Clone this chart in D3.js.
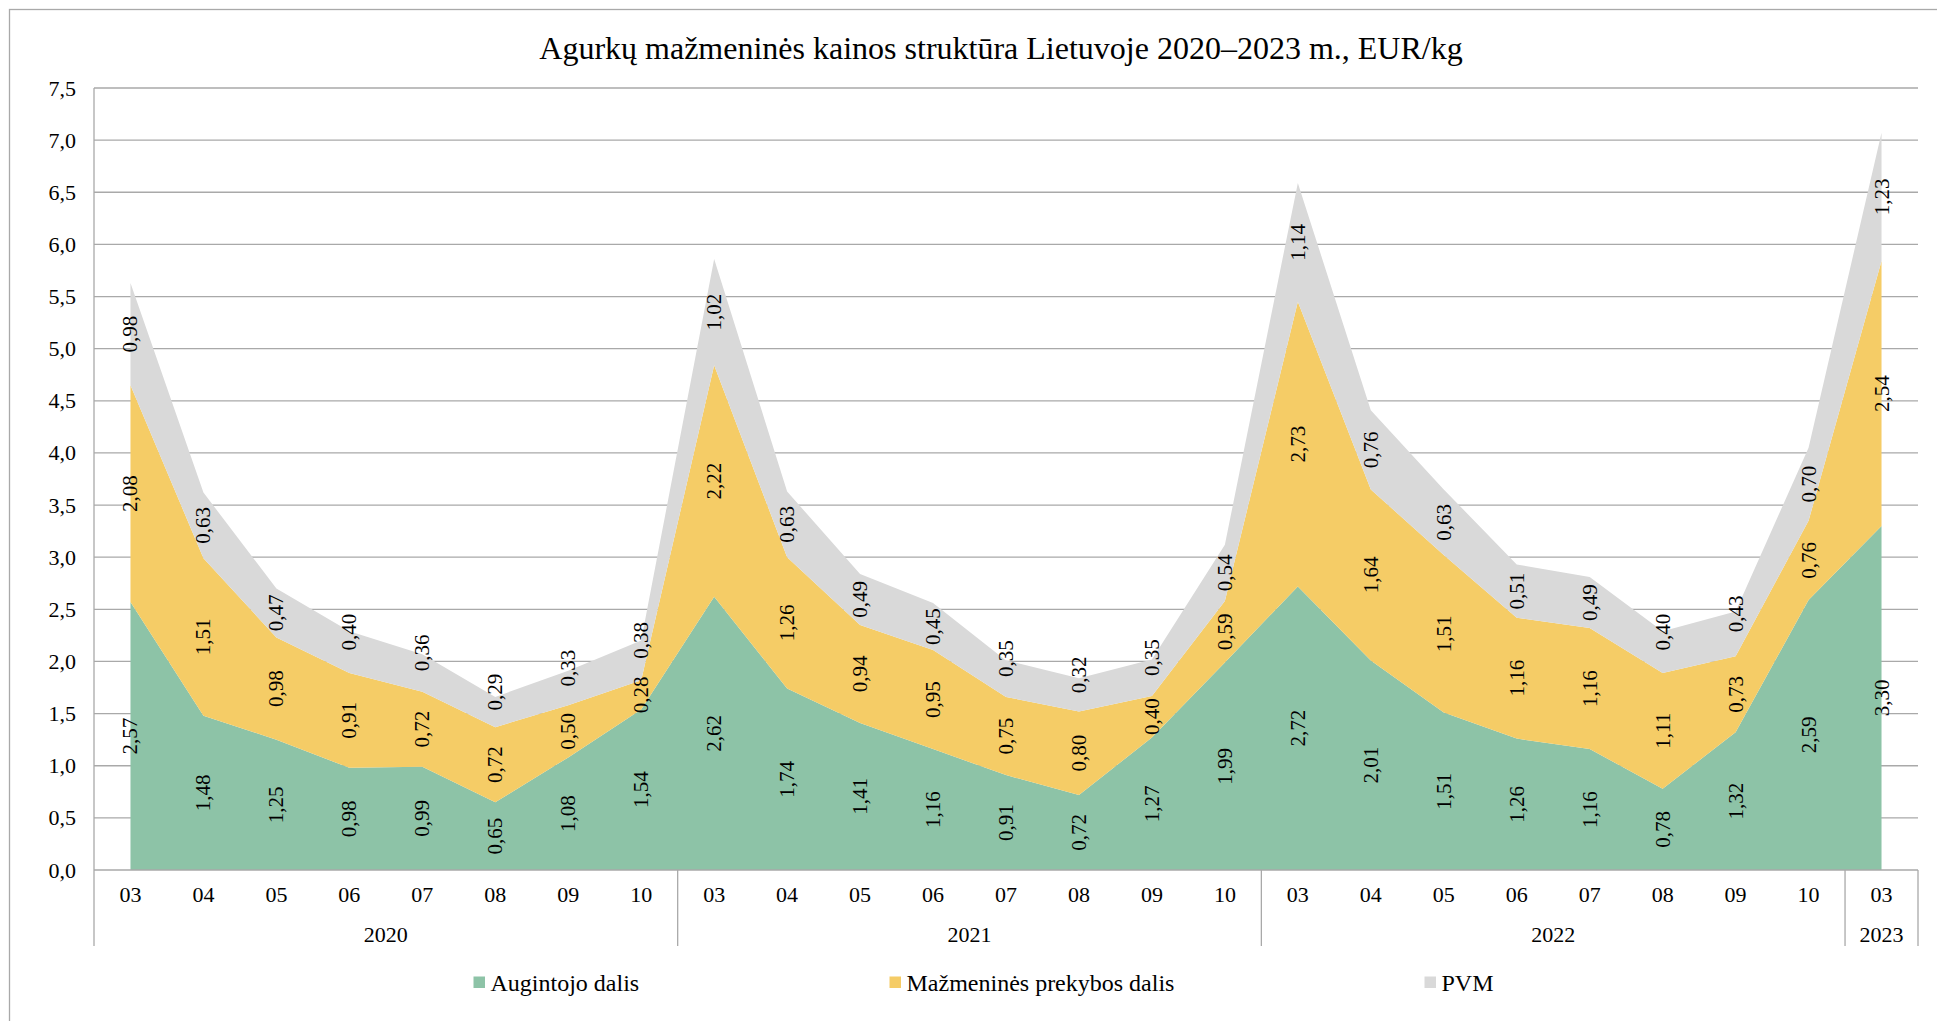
<!DOCTYPE html>
<html>
<head>
    <meta charset="utf-8">
    <title>Agurkų mažmeninės kainos struktūra</title>
    <style>
        body { margin: 0; background: #fff; }
        svg text { font-family: 'Liberation Serif', 'Times New Roman', serif; fill: #000; }
        .grid line { stroke: #a9a9a9; stroke-width: 1.3px; }
        .axis-line { stroke: #a9a9a9; stroke-width: 1.3px; }
        .tick-label { font-size: 22px; }
        .legend-label { font-size: 24px; }
        .val-label { font-size: 21px; text-anchor: middle; dominant-baseline: central; }
    </style>
    <script src="https://d3js.org/d3.v7.min.js"></script>
</head>
<body>
<div id="chart"></div>
<script>
    const width = 1937,
          height = 1021;

    // data
    const years = ['2020', '2021', '2022', '2023'];
    const monthsPerYear = [
        ['03', '04', '05', '06', '07', '08', '09', '10'],
        ['03', '04', '05', '06', '07', '08', '09', '10'],
        ['03', '04', '05', '06', '07', '08', '09', '10'],
        ['03']
    ];
    const seriesNames = ['Augintojo dalis', 'Mažmeninės prekybos dalis', 'PVM'];
    const grower = [2.57, 1.48, 1.25, 0.98, 0.99, 0.65, 1.08, 1.54,
                    2.62, 1.74, 1.41, 1.16, 0.91, 0.72, 1.27, 1.99,
                    2.72, 2.01, 1.51, 1.26, 1.16, 0.78, 1.32, 2.59,
                    3.30];
    const retail = [2.08, 1.51, 0.98, 0.91, 0.72, 0.72, 0.50, 0.28,
                    2.22, 1.26, 0.94, 0.95, 0.75, 0.80, 0.40, 0.59,
                    2.73, 1.64, 1.51, 1.16, 1.16, 1.11, 0.73, 0.76,
                    2.54];
    const vat = [0.98, 0.63, 0.47, 0.40, 0.36, 0.29, 0.33, 0.38,
                 1.02, 0.63, 0.49, 0.45, 0.35, 0.32, 0.35, 0.54,
                 1.14, 0.76, 0.63, 0.51, 0.49, 0.40, 0.43, 0.70,
                 1.23];
    const yTicks = [0, 0.5, 1, 1.5, 2, 2.5, 3, 3.5, 4, 4.5, 5, 5.5, 6, 6.5, 7, 7.5];
    const colors = ['#8dc3a7', '#f5cc66', '#d9d9d9'];

    // build rows
    const cats = [];
    monthsPerYear.forEach((ms, yi) => ms.forEach(m => cats.push({ key: years[yi] + '-' + m, year: years[yi], month: m })));
    const rows = cats.map((c, i) => ({ key: c.key, s0: grower[i], s1: retail[i], s2: vat[i] }));

    const plot = { left: 94, right: 1918, top: 88, bottom: 870 };

    const x = d3.scaleBand()
            .domain(cats.map(c => c.key))
            .range([plot.left, plot.right]);
    const cx = k => x(k) + x.bandwidth() / 2;

    const y = d3.scaleLinear()
            .domain([0, 7.5])
            .range([plot.bottom, plot.top]);

    const fmt = v => d3.format('.2f')(v).replace('.', ',');
    const fmtTick = v => d3.format('.1f')(v).replace('.', ',');

    const svg = d3.select('#chart').append('svg')
            .attr('width', width)
            .attr('height', height);

    // outer frame (runs off the right and bottom edge like the original)
    svg.append('rect')
            .attr('x', 9.5).attr('y', 9.5)
            .attr('width', width + 20).attr('height', height + 20)
            .attr('fill', 'none')
            .attr('stroke', '#a9a9a9')
            .attr('stroke-width', 1.3);

    svg.append('text')
            .attr('x', 1001)
            .attr('y', 59)
            .attr('text-anchor', 'middle')
            .style('font-size', '32px')
            .text('Agurkų mažmeninės kainos struktūra Lietuvoje 2020–2023 m., EUR/kg');

    // gridlines
    svg.append('g').attr('class', 'grid')
            .selectAll('line')
            .data(yTicks.filter(d => d > 0))
            .join('line')
            .attr('x1', plot.left).attr('x2', plot.right)
            .attr('y1', d => y(d)).attr('y2', d => y(d));

    // y labels
    svg.append('g')
            .selectAll('text')
            .data(yTicks)
            .join('text')
            .attr('class', 'tick-label')
            .attr('x', 76)
            .attr('y', d => y(d))
            .attr('text-anchor', 'end')
            .attr('dominant-baseline', 'central')
            .text(fmtTick);

    // stacked areas
    const stack = d3.stack().keys(['s0', 's1', 's2']);
    const layers = stack(rows);

    const area = d3.area()
            .x(d => cx(d.data.key))
            .y0(d => y(d[0]))
            .y1(d => y(d[1]));

    svg.append('g')
            .selectAll('path')
            .data(layers)
            .join('path')
            .attr('fill', (d, i) => colors[i])
            .attr('d', area);

    // axes lines
    const axisBottom = 946;
    svg.append('line').attr('class', 'axis-line')
            .attr('x1', plot.left).attr('x2', plot.right)
            .attr('y1', plot.bottom).attr('y2', plot.bottom);
    svg.append('line').attr('class', 'axis-line')
            .attr('x1', plot.left).attr('x2', plot.left)
            .attr('y1', plot.top).attr('y2', axisBottom);

    // year separators
    let idx = 0;
    const yearGroups = monthsPerYear.map((ms, yi) => {
        const first = cats[idx].key, last = cats[idx + ms.length - 1].key;
        idx += ms.length;
        return { year: years[yi], x0: x(first), x1: x(last) + x.bandwidth() };
    });

    svg.append('g')
            .selectAll('line')
            .data(yearGroups)
            .join('line')
            .attr('class', 'axis-line')
            .attr('x1', d => d.x1).attr('x2', d => d.x1)
            .attr('y1', plot.bottom).attr('y2', axisBottom);

    // month labels
    svg.append('g')
            .selectAll('text')
            .data(cats)
            .join('text')
            .attr('class', 'tick-label')
            .attr('x', d => cx(d.key))
            .attr('y', 894)
            .attr('text-anchor', 'middle')
            .attr('dominant-baseline', 'central')
            .text(d => d.month);

    // year labels
    svg.append('g')
            .selectAll('text')
            .data(yearGroups)
            .join('text')
            .attr('class', 'tick-label')
            .attr('x', d => (d.x0 + d.x1) / 2)
            .attr('y', 934)
            .attr('text-anchor', 'middle')
            .attr('dominant-baseline', 'central')
            .text(d => d.year);

    // value labels, rotated, centred in each band.
    // thin top bands get their label lifted toward the edge (as Excel did),
    // then labels in one column are pushed apart if they collide
    const LABEL_GAP = 50;
    const labels = [];
    rows.forEach((r, i) => {
        const col = layers.map((layer, li) => {
            const d = layer[i];
            const thick = y(d[0]) - y(d[1]);
            let py = y((d[0] + d[1]) / 2);
            if (li === layers.length - 1 && thick < 45) py -= 20;
            return { key: r.key, value: d[1] - d[0], py };
        });
        for (let k = 1; k < col.length; k++) {
            const sep = col[k - 1].py - col[k].py;
            if (sep < LABEL_GAP) {
                const half = (LABEL_GAP - sep) / 2;
                col[k - 1].py += half;
                col[k].py -= half;
            }
        }
        labels.push(...col);
    });

    svg.append('g')
            .selectAll('text')
            .data(labels)
            .join('text')
            .attr('class', 'val-label')
            .attr('transform', d => `translate(${cx(d.key)},${d.py}) rotate(-90)`)
            .text(d => fmt(d.value));

    // legend
    const legendX = [473.5, 889.5, 1424.5];
    const legend = svg.append('g')
            .selectAll('g')
            .data(seriesNames)
            .join('g')
            .attr('transform', (d, i) => `translate(${legendX[i]},976.5)`);
    legend.append('rect')
            .attr('width', 11.5).attr('height', 11.5)
            .attr('fill', (d, i) => colors[i]);
    legend.append('text')
            .attr('class', 'legend-label')
            .attr('x', 17)
            .attr('y', 6)
            .attr('dominant-baseline', 'central')
            .text(d => d);
</script>
</body>
</html>
